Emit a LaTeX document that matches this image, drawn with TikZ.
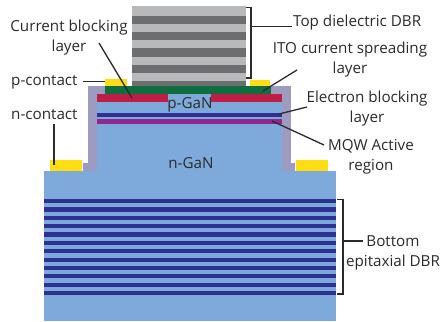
\documentclass[tikz,border=0pt]{standalone}
\usepackage{fontspec}
\setmainfont{Open Sans}
\definecolor{gan}{HTML}{7DA9DB}
\definecolor{dbrblue}{HTML}{2E3192}
\definecolor{mqw}{HTML}{92278F}
\definecolor{cbl}{HTML}{BE1E45}
\definecolor{ito}{HTML}{0F6E3F}
\definecolor{metal}{HTML}{FFDD15}
\definecolor{passiv}{HTML}{9D9BBF}
\definecolor{dlight}{HTML}{B8B9BB}
\definecolor{ddark}{HTML}{6D6E70}
\definecolor{ink}{HTML}{2B2B2B}
\tikzset{
  x=1pt,y=-1pt,
  lbl/.style={text=ink,inner sep=0pt,align=center,font=\fontsize{15.2}{20}\selectfont},
  leader/.style={draw=ink,line width=1.3pt},
}
\begin{document}
\begin{tikzpicture}
\useasboundingbox (0,0) rectangle (441,321);
% substrate and mesa
\fill[gan] (44,171) rectangle (336,321);
\fill[passiv] (88,86) rectangle (105,94);
\fill[passiv] (88,86) rectangle (97,171);
\fill[passiv] (83,163) rectangle (97,171);
\fill[passiv] (271,86) rectangle (291,94);
\fill[passiv] (282,86) rectangle (291,171);
\fill[passiv] (282,163) rectangle (295,171);
\fill[gan] (97,94) rectangle (282,171);
% bottom DBR
\foreach \a/\b in {199/203,207/212,216/220,224/228,232/237,241/245,249/253,258/262,266/270,274/278,283/287,291/295}
  \fill[dbrblue] (44,\a) rectangle (336,\b);
% top DBR
\fill[dlight] (132,6) rectangle (246,86);
\foreach \a/\b in {16/24,32/40,48/57,65/73,81/86}
  \fill[ddark] (132,\a) rectangle (246,\b);
% active layers
\fill[ito] (105,86) rectangle (271,94);
\fill[cbl] (97,94) rectangle (168,102);
\fill[cbl] (211,94) rectangle (282,102);
\fill[dbrblue] (97,113) rectangle (282,117);
\fill[mqw] (97,119) rectangle (282,124);
% contacts
\fill[metal] (105,79) rectangle (127,86);
\fill[metal] (250,80) rectangle (270,86);
\fill[metal] (50,160) rectangle (82,171);
\fill[metal] (296,160) rectangle (328,171);
% labels
\node[lbl] (cb) at (69,37.5) {Current blocking\\layer};
\node[lbl,anchor=west] (pc) at (11,82) {p-contact};
\node[lbl,anchor=west] (nc) at (11,115) {n-contact};
\node[lbl] (pg) at (190,104.5) {p-GaN};
\node[lbl] (ng) at (191,163) {n-GaN};
\node[lbl,anchor=west] (top) at (293,22.5) {Top dielectric DBR};
\node[lbl] (itol) at (350,59.5) {ITO current spreading\\layer};
\node[lbl] (ebl) at (367,108.5) {Electron blocking\\layer};
\node[lbl] (mq) at (371,156.5) {MQW Active\\region};
\node[lbl] (bot) at (393,252.5) {Bottom\\epitaxial DBR};
% leader ends
\coordinate (cbS) at (99,43);
\coordinate (cbE) at (132,98);
\coordinate (pcS) at (83,81.5);
\coordinate (pcE) at (105,81.5);
\coordinate (ncS) at (54,124);
\coordinate (ncE) at (54,165);
\coordinate (itoS) at (297,70);
\coordinate (itoE) at (263,91);
\coordinate (eblS) at (307,107);
\coordinate (eblE) at (279,114);
\coordinate (mqS) at (324,145);
\coordinate (mqE) at (272,121);
\coordinate (tb) at (251,26.5);
\coordinate (tbE) at (292,26.5);
\coordinate (bb) at (343,241);
\coordinate (bbE) at (363,241);
\draw[leader] (cbS) -- (cbE);
\draw[leader] (pcS) -- (pcE);
\draw[leader] (ncS) -- (ncE);
\draw[leader] (itoS) -- (itoE);
\draw[leader] (eblS) -- (eblE);
\draw[leader] (mqS) -- (mqE);
% brackets
\draw[leader] (246,7.5) -| (251,78) -- (246,78);
\draw[leader] (tb) -- (tbE);
\draw[leader] (337,199.5) -| (343,294) -- (337,294);
\draw[leader] (bb) -- (bbE);
\end{tikzpicture}
\end{document}
